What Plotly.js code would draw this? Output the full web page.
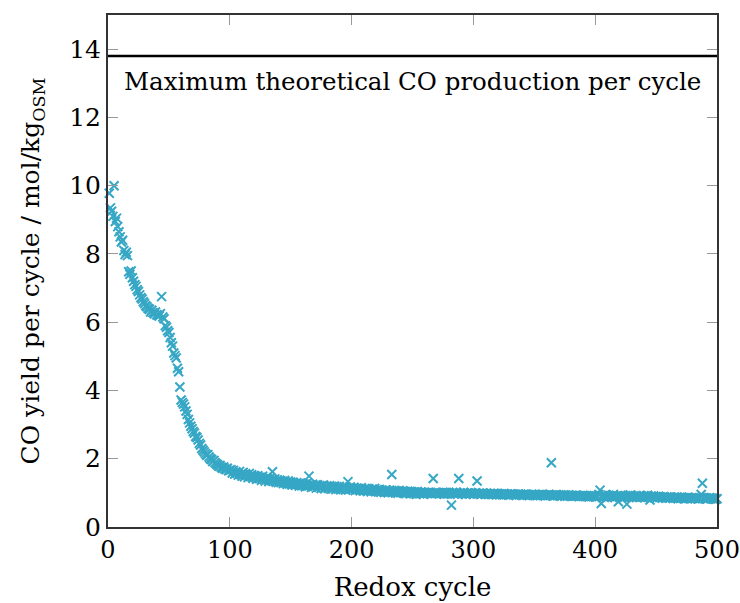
<!DOCTYPE html>
<html>
<head>
<meta charset="utf-8">
<script src="https://cdn.plot.ly/plotly-3.0.1.min.js"></script>
<style>html,body{margin:0;padding:0;background:#fff;}#chart{width:740px;height:603px;}</style>
</head>
<body>
<div id="chart"></div>
<script>
// CO yield per redox cycle (mol/kg_OSM), cycles 1..500
const coYield = [
9.78,9.35,9.25,9.10,10.0,8.95,9.05,8.80,8.65,8.50,8.35,8.40,8.10,7.98,8.05,7.95,7.48,7.40,7.50,7.30,
7.20,7.10,7.05,6.95,6.90,6.80,6.72,6.68,6.60,6.55,6.48,6.45,6.40,6.38,6.30,6.35,6.28,6.25,6.30,6.22,
6.20,6.18,6.25,6.75,6.15,6.10,5.90,5.85,5.75,5.70,5.55,5.40,5.30,5.10,5.02,4.95,4.65,4.55,4.10,3.72,
3.65,3.60,3.52,3.40,3.30,3.15,3.05,2.95,2.88,2.80,2.75,2.65,2.62,2.55,2.45,2.40,2.30,2.25,2.20,2.15,
2.10,2.12,2.05,2.00,1.98,1.92,1.95,1.88,1.85,1.82,1.78,1.80,1.75,1.72,1.76,1.70,1.68,1.72,1.65,1.66,
1.68,1.58,1.66,1.55,1.62,1.57,1.52,1.63,1.54,1.49,1.60,1.47,1.56,1.52,1.45,1.57,1.48,1.53,1.43,1.51,
1.47,1.40,1.50,1.42,1.46,1.37,1.49,1.41,1.35,1.45,1.39,1.33,1.43,1.36,1.62,1.34,1.41,1.31,1.38,1.30,
1.37,1.30,1.34,1.27,1.36,1.29,1.25,1.35,1.26,1.32,1.23,1.31,1.27,1.22,1.30,1.25,1.20,1.29,1.21,1.27,
1.24,1.18,1.27,1.20,1.49,1.23,1.16,1.25,1.19,1.22,1.14,1.24,1.17,1.21,1.13,1.20,1.23,1.12,1.19,1.16,
1.15,1.21,1.11,1.18,1.13,1.20,1.10,1.17,1.12,1.19,1.09,1.16,1.12,1.18,1.08,1.15,1.33,1.10,1.17,1.12,
1.10,1.16,1.07,1.14,1.09,1.13,1.06,1.15,1.10,1.05,1.13,1.08,1.04,1.12,1.07,1.03,1.11,1.06,1.13,1.04,
1.09,1.03,1.10,1.02,1.08,1.05,1.01,1.09,1.04,1.00,1.08,1.03,1.54,1.02,1.07,1.00,1.05,0.99,1.07,1.02,
1.01,1.06,0.99,1.04,0.98,1.05,1.01,0.97,1.04,1.00,0.98,1.03,0.96,1.04,1.00,0.97,1.03,0.99,0.96,1.02,
1.00,0.98,1.02,0.99,1.01,0.97,1.42,1.00,0.98,1.01,0.99,0.97,1.00,0.98,1.02,0.96,0.99,1.01,0.97,1.00,
0.98,0.64,1.01,0.97,0.99,1.02,0.96,1.42,1.00,0.98,0.97,1.01,0.99,0.96,1.00,0.98,0.97,1.01,0.99,0.96,
0.98,1.00,1.35,0.97,0.99,0.96,0.98,1.00,0.97,0.95,0.99,0.97,0.96,0.98,0.95,0.97,0.99,0.96,0.94,0.98,
0.96,0.95,0.97,0.94,0.98,0.96,0.95,0.97,0.93,0.96,0.95,0.97,0.94,0.96,0.93,0.95,0.97,0.94,0.96,0.93,
0.95,0.94,0.96,0.93,0.95,0.92,0.94,0.96,0.93,0.95,0.92,0.94,0.93,0.95,0.92,0.94,0.96,0.93,0.91,0.94,
0.93,0.95,0.92,1.88,0.94,0.91,0.93,0.95,0.92,0.94,0.91,0.93,0.92,0.94,0.90,0.93,0.91,0.94,0.92,0.90,
0.93,0.91,0.92,0.90,0.93,0.91,0.89,0.92,0.90,0.93,0.91,0.89,0.92,0.90,0.88,0.91,0.89,0.92,0.90,0.88,
0.91,0.89,0.95,1.08,0.69,0.92,0.88,0.94,0.90,0.86,0.93,0.89,0.91,0.87,0.95,0.88,0.90,0.92,0.74,0.89,
0.93,0.87,0.90,0.86,0.92,0.67,0.89,0.91,0.94,0.87,0.90,0.88,0.92,0.86,0.89,0.91,0.87,0.90,0.88,0.92,
0.86,0.89,0.93,0.87,0.79,0.90,0.88,0.91,0.85,0.89,0.87,0.90,0.86,0.88,0.85,0.89,0.87,0.84,0.88,0.86,
0.85,0.88,0.86,0.84,0.87,0.85,0.88,0.83,0.86,0.84,0.87,0.85,0.83,0.86,0.84,0.87,0.85,0.83,0.86,0.84,
0.85,0.83,0.86,0.84,0.82,0.85,0.95,1.28,0.86,0.83,0.85,0.82,0.84,0.86,0.83,0.85,0.82,0.84,0.81,0.83
];
const cycles = coYield.map((_, i) => i + 1);
const maxCO = 13.8;
const maxLineX = [0, 500];
const maxLabel = "Maximum theoretical CO production per cycle";
const xTicks = [0, 100, 200, 300, 400, 500];
const yTicks = [0, 2, 4, 6, 8, 10, 12, 14];

const FONT = "DejaVu Serif";
const traces = [
  {
    x: cycles, y: coYield, type: "scatter", mode: "markers",
    marker: {symbol: "x-thin-open", size: 9, color: "#36a7c5", line: {color: "#36a7c5", width: 2}},
    showlegend: false, cliponaxis: false, hoverinfo: "skip"
  },
  {
    x: maxLineX, y: [maxCO, maxCO], type: "scatter", mode: "lines",
    line: {color: "#000", width: 2.5}, showlegend: false, hoverinfo: "skip"
  }
];
const axisCommon = {
  showgrid: false, zeroline: false, showline: true, linecolor: "#333", linewidth: 2,
  mirror: "ticks", ticks: "inside", ticklen: 10, tickwidth: 1, tickcolor: "#999",
  ticklabeloverflow: "allow"
};
const layout = {
  width: 740, height: 603,
  margin: {l: 108, r: 23, t: 15, b: 76},
  paper_bgcolor: "#fff", plot_bgcolor: "#fff",
  font: {family: FONT, color: "#000"},
  xaxis: Object.assign({}, axisCommon, {
    range: [0, 500], tickvals: xTicks, ticktext: xTicks.map(String),
    tickfont: {family: FONT, size: 24, color: "#000"},
    title: {text: "Redox cycle", font: {family: FONT, size: 26}, standoff: 15}
  }),
  yaxis: Object.assign({}, axisCommon, {
    range: [0, 15], tickvals: yTicks, ticktext: yTicks.map(String),
    tickfont: {family: FONT, size: 25, color: "#000"},
    title: {text: "CO yield per cycle / mol/kg<sub>OSM</sub>", font: {family: FONT, size: 25}, standoff: 22}
  }),
  annotations: [{
    x: 250, y: 13.05, xref: "x", yref: "y", text: maxLabel, showarrow: false,
    font: {family: FONT, size: 24.5, color: "#000"}
  }]
};
Plotly.newPlot("chart", traces, layout, {staticPlot: true, displayModeBar: false});
</script>
</body>
</html>
